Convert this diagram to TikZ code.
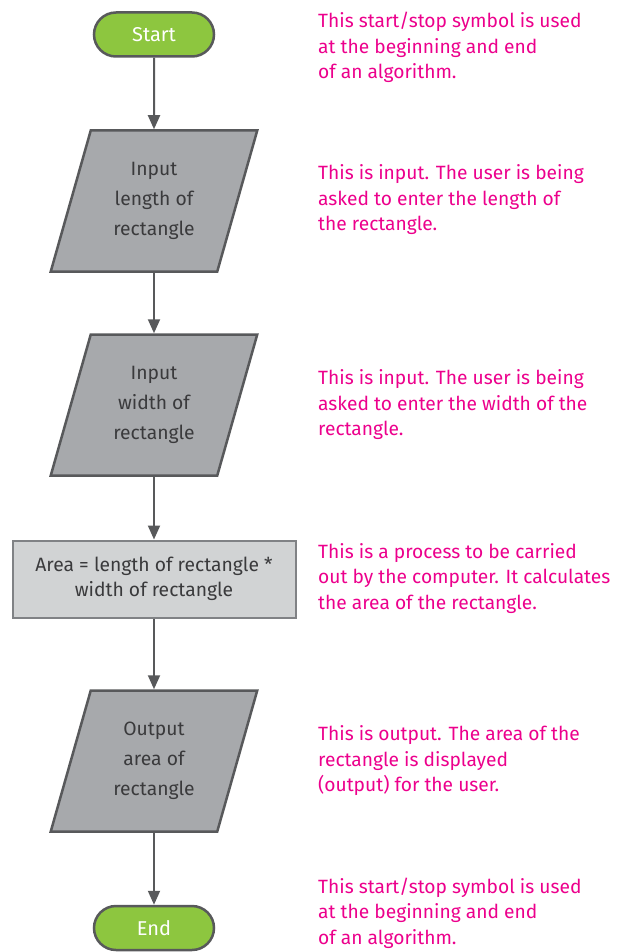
\documentclass[tikz,border=0pt]{standalone}
\usepackage{fontspec}
\setmainfont{Fira Sans}
\usetikzlibrary{shapes.misc,arrows.meta,backgrounds}
\definecolor{termgreen}{HTML}{8DC63F}
\definecolor{iogray}{HTML}{A7A9AC}
\definecolor{procgray}{HTML}{D1D3D4}
\definecolor{edgegray}{HTML}{58595B}
\definecolor{procedge}{HTML}{808285}
\definecolor{notepink}{HTML}{EC008C}
\definecolor{txtgray}{HTML}{3A3A3C}
\tikzset{
  terminal/.style={rounded rectangle, draw=edgegray, line width=2.5pt, fill=termgreen,
    minimum width=120pt, minimum height=44pt, text=white, font=\fontsize{20}{24}\selectfont, inner sep=0pt},
  iobox/.style={rectangle, minimum width=164pt, minimum height=141pt, outer sep=1.25pt,
    text=txtgray, align=center, font=\fontsize{19.3}{30}\selectfont, inner sep=0pt},
  ioshape/.style={draw=edgegray, line width=2.5pt, fill=iogray, line join=miter},
  procbox/.style={rectangle, draw=procedge, line width=2pt, fill=procgray,
    minimum width=283pt, minimum height=77pt, text=txtgray, align=center,
    font=\fontsize{19.3}{25}\selectfont, inner sep=0pt},
  note/.style={anchor=west, align=left, text=notepink, font=\fontsize{19.2}{25.5}\selectfont, inner sep=0pt},
  flow/.style={draw=edgegray, line width=2pt, -{Triangle[length=14pt,width=12pt]}}
}
\newcommand{\ioshapeof}[1]{%
  \begin{scope}[on background layer]
    \draw[ioshape] ([xshift=20pt,yshift=-1.25pt]#1.north west) -- ([xshift=20pt,yshift=-1.25pt]#1.north east)
      -- ([xshift=-20pt,yshift=1.25pt]#1.south east) -- ([xshift=-20pt,yshift=1.25pt]#1.south west) -- cycle;
  \end{scope}}
\begin{document}
\begin{tikzpicture}[x=1pt,y=-1pt]
\useasboundingbox (0,0) rectangle (618,952);
\node[terminal] (start) at (154,34.5) {Start};
\node[iobox] (in1) at (154,201) {Input\\length of\\rectangle};
\node[iobox] (in2) at (154,405) {Input\\width of\\rectangle};
\node[procbox] (proc) at (154,579) {Area = length of rectangle *\\width of rectangle};
\node[iobox] (out) at (154,761) {Output\\area of\\rectangle};
\node[terminal] (end) at (154,928) {End};
\ioshapeof{in1}
\ioshapeof{in2}
\ioshapeof{out}

\draw[flow] (start) -- (in1);
\draw[flow] (in1) -- (in2);
\draw[flow] (in2) -- (proc);
\draw[flow] (proc) -- (out);
\draw[flow] (out) -- (end);

\node[note] (n1) at (318,47.5) {This start/stop symbol is used\\at the beginning and end\\of an algorithm.};
\node[note] (n2) at (318,200) {This is input. The user is being\\asked to enter the length of\\the rectangle.};
\node[note] (n3) at (318,405) {This is input. The user is being\\asked to enter the width of the\\rectangle.};
\node[note] (n4) at (318,578.5) {This is a process to be carried\\out by the computer. It calculates\\the area of the rectangle.};
\node[note] (n5) at (318,761) {This is output. The area of the\\rectangle is displayed\\(output) for the user.};
\node[note] (n6) at (318,913) {This start/stop symbol is used\\at the beginning and end\\of an algorithm.};
\end{tikzpicture}
\end{document}
